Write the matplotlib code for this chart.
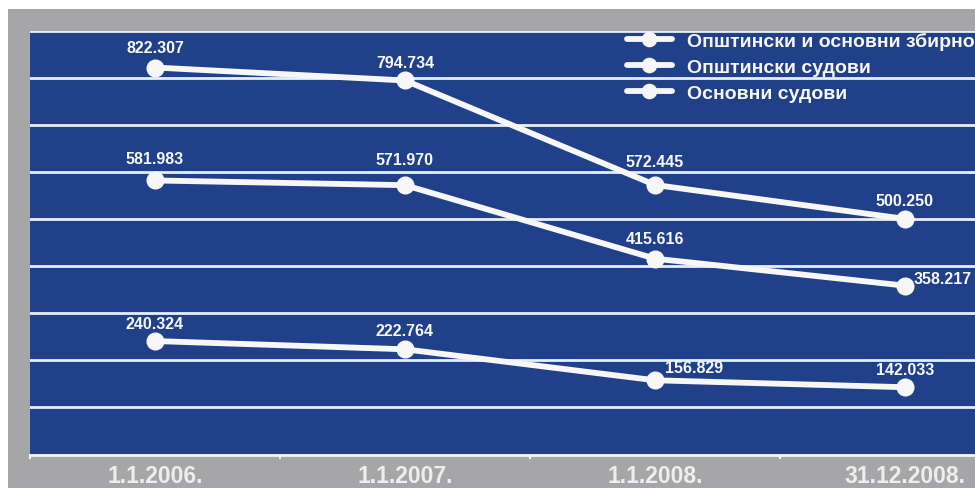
import numpy as np
import matplotlib
matplotlib.use("Agg")
import matplotlib.pyplot as plt
from matplotlib.patches import Rectangle

plt.rcParams['font.family'] = ['Liberation Sans', 'DejaVu Sans']

# Data
dates = ["1.1.2006.", "1.1.2007.", "1.1.2008.", "31.12.2008."]
series_names = ["Општински и основни збирно", "Општински судови", "Основни судови"]
zbirno = [822.307, 794.734, 572.445, 500.250]
opstinski = [581.983, 571.970, 415.616, 358.217]
osnovni = [240.324, 222.764, 156.829, 142.033]

# label offsets in pixels (dx, dy, ha) for each point
label_offsets = [
    [(0, 20, 'center'), (0, 18, 'center'), (0, 23, 'center'), (0, 18, 'center')],
    [(0, 22, 'center'), (0, 26, 'center'), (0, 20, 'center'), (9, 7, 'left')],
    [(0, 18, 'center'), (0, 19, 'center'), (10, 13, 'left'), (0, 18, 'center')],
]

blue = '#20408a'
gray = '#a6a6a8'
white = '#f7f7f7'

fig = plt.figure(figsize=(9.75, 4.89), dpi=100, facecolor='white')
# gray frame
fig.add_artist(Rectangle((8 / 975, 0), 1, (489 - 10) / 489, transform=fig.transFigure,
                         facecolor=gray, edgecolor='none', zorder=0))

ax = fig.add_axes([30 / 975, 34 / 489, 1000 / 975, 423 / 489])
ax.set_facecolor(blue)
ax.set_xlim(-0.5, 3.5)
ax.set_ylim(0, 900)

# horizontal grid
for yv in np.arange(100, 901, 100):
    ax.axhline(yv, color='#e6eef8', lw=2.0, zorder=1)

x = np.arange(len(dates))
for vals, name, offs in zip([zbirno, opstinski, osnovni], series_names, label_offsets):
    ax.plot(x, vals, color=white, lw=4.2, marker='o', ms=12, mfc=white, mec=white,
            solid_capstyle='round', label=name, zorder=3, clip_on=False)
    for xi, v, (dx, dy, ha) in zip(x, vals, offs):
        ax.annotate(f"{v:.3f}", (xi, v), xytext=(dx * 0.72, dy * 0.72), textcoords='offset points',
                    ha=ha, va='center', color=white, fontsize=11.5, fontweight='bold', zorder=4)

for s in ['top', 'left', 'right']:
    ax.spines[s].set_visible(False)
ax.spines['bottom'].set_color('#f2f4f8')
ax.spines['bottom'].set_linewidth(2)
ax.spines['bottom'].set_position(('outward', 1))

ax.set_yticks([])
ax.set_xticks(x)
ax.set_xticklabels(dates, fontsize=16.5, fontweight='bold', color='#eeeeee')
ax.tick_params(axis='x', which='major', length=0, pad=6)
ax.set_xticks([-0.5, 0.5, 1.5, 2.5], minor=True)
ax.tick_params(axis='x', which='minor', length=3, width=1.5, color='#f2f4f8')

leg = ax.legend(loc='upper left', bbox_to_anchor=(627 / 975, 1 - 33 / 489),
                bbox_transform=fig.transFigure, frameon=False,
                fontsize=14, handlelength=2.3, handletextpad=0.8, labelspacing=0.43,
                borderaxespad=0, borderpad=0, markerscale=0.85)
leg.set_zorder(10)
for t in leg.get_texts():
    t.set_color(white)
    t.set_fontweight('bold')

fig.savefig('out.png', dpi=100, facecolor=fig.get_facecolor())
